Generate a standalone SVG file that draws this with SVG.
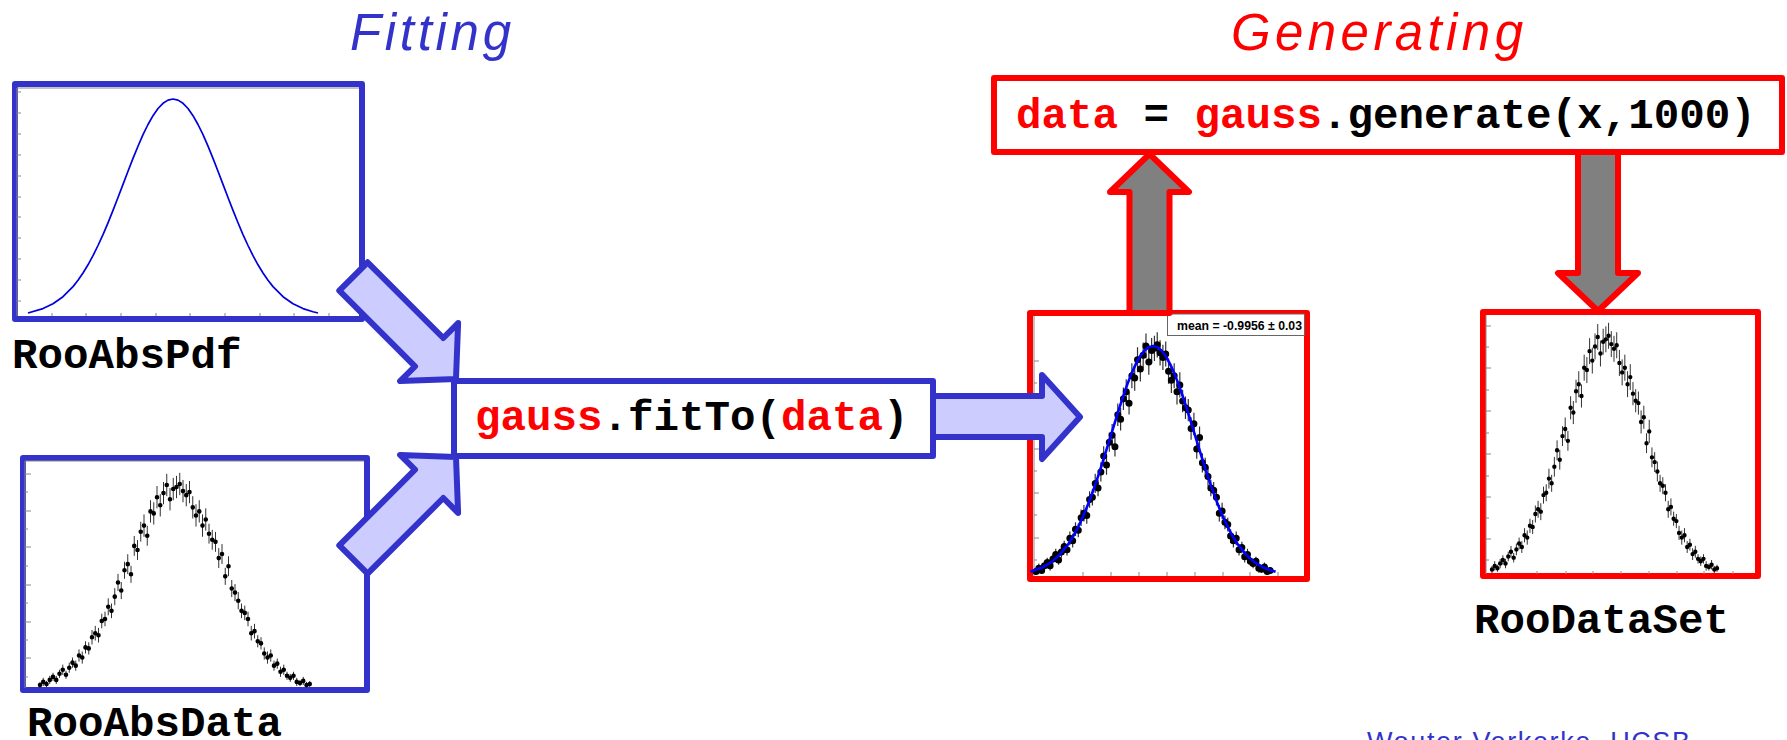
<svg xmlns="http://www.w3.org/2000/svg" width="1787" height="740" viewBox="0 0 1787 740">
<style>
.bluebox{fill:#fff;stroke:#3333cc;stroke-width:6;stroke-linejoin:round}
.redbox{fill:#fff;stroke:#ff0000;stroke-width:6;stroke-linejoin:round}
.barrow{fill:#ccccff;stroke:#3333cc;stroke-width:6;stroke-linejoin:round}
.rarrow{fill:#808080;stroke:#ff0000;stroke-width:6;stroke-linejoin:round}
.code{font-family:"Liberation Mono","Courier New",monospace;font-weight:bold;font-size:42.5px;fill:#000}
.red{fill:#ff0000}
.title{font-family:"Liberation Sans",Arial,sans-serif;font-style:italic;font-size:51px}
.axis{stroke:#888;stroke-width:1;fill:none}
.eb{fill:none;stroke:#333;vector-effect:non-scaling-stroke}
.dots{fill:none;stroke:#000;stroke-linecap:round;vector-effect:non-scaling-stroke}
.curve{fill:none;stroke-linejoin:round;vector-effect:non-scaling-stroke}
.stat{font-family:"Liberation Sans",Arial,sans-serif;font-weight:bold;font-size:12.5px;fill:#000}
</style>
<defs>
<path id="errbars" class="eb" d="M0 0V3M1 1V5M2 .5V3.5M3 2V6M4 3.5V7.5M5 2V6M6 5V9M7 6.5V11.5M8 4.5V8.5M9 7.5V12.5M10 10V15M11 8.5V13.5M12 13V19M13 12V18M14 17V23M15 16.5V22.5M16 21.4V28.6M17 23.4V30.6M18 22.4V29.6M19 29.4V36.6M20 30.4V37.6M21 35.8V44.2M22 34.4V41.6M23 40.8V49.2M24 47.8V56.2M25 43.8V52.2M26 53.8V62.2M27 56.1V65.9M28 51.8V60.2M29 65.1V74.9M30 63.1V72.9M31 72.1V81.9M32 74.5V85.5M33 70.1V79.9M34 81.5V92.5M35 80.5V91.5M36 88.5V99.5M37 84.5V95.5M38 90.5V101.5M39 94.5V105.5M40 87.5V98.5M41 92.5V103.5M42 93.5V104.5M43 95V106M44 91.5V102.5M45 89.5V100.5M46 91V102M47 83.5V94.5M48 79.5V90.5M49 81.5V92.5M50 74.5V85.5M51 77.5V88.5M52 71.1V80.9M53 68.1V77.9M54 67.1V76.9M55 59.1V68.9M56 61.1V70.9M57 50.8V59.2M58 55.1V64.9M59 44.8V53.2M60 42.8V51.2M61 38.8V47.2M62 34.4V41.6M63 33.4V40.6M64 30.4V37.6M65 23.4V30.6M66 24.4V31.6M67 20V26M68 19V25M69 14V20M70 12V18M71 13V19M72 8.5V13.5M73 9.5V14.5M74 5.5V10.5M75 6.5V11.5M76 4V8M77 3V7M78 4V8M79 1V5M80 1V4M81 1.5V5.5M82 0V3M83 .5V3.5"/>
<path id="datadots" class="dots" d="M0 1.5h.001M1 3h.001M2 2h.001M3 4h.001M4 5.5h.001M5 4h.001M6 7h.001M7 9h.001M8 6.5h.001M9 10h.001M10 12.5h.001M11 11h.001M12 16h.001M13 15h.001M14 20h.001M15 19.5h.001M16 25h.001M17 27h.001M18 26h.001M19 33h.001M20 34h.001M21 40h.001M22 38h.001M23 45h.001M24 52h.001M25 48h.001M26 58h.001M27 61h.001M28 56h.001M29 70h.001M30 68h.001M31 77h.001M32 80h.001M33 75h.001M34 87h.001M35 86h.001M36 94h.001M37 90h.001M38 96h.001M39 100h.001M40 93h.001M41 98h.001M42 99h.001M43 100.5h.001M44 97h.001M45 95h.001M46 96.5h.001M47 89h.001M48 85h.001M49 87h.001M50 80h.001M51 83h.001M52 76h.001M53 73h.001M54 72h.001M55 64h.001M56 66h.001M57 55h.001M58 60h.001M59 49h.001M60 47h.001M61 43h.001M62 38h.001M63 37h.001M64 34h.001M65 27h.001M66 28h.001M67 23h.001M68 22h.001M69 17h.001M70 15h.001M71 16h.001M72 11h.001M73 12h.001M74 8h.001M75 9h.001M76 6h.001M77 5h.001M78 6h.001M79 3h.001M80 2.5h.001M81 3.5h.001M82 1.5h.001M83 2h.001"/>
<path id="pdfcurve" class="curve" d="M28 313L43 308.6L53 303.8L63 296.7L73 286.6L78 280.3L83 273L88 264.8L93 255.7L98 245.5L103 234.6L108 222.8L113 210.4L118 197.5L123 184.4L128 171.3L133 158.4L138 146.2L143 134.7L148 124.5L153 115.7L158 108.5L163 103.3L168 100.1L173 99L178 100.1L183 103.3L188 108.5L193 115.7L198 124.5L203 134.7L208 146.2L213 158.4L218 171.3L223 184.4L228 197.5L233 210.4L238 222.8L243 234.6L248 245.5L253 255.7L258 264.8L263 273L268 280.3L273 286.6L283 296.7L293 303.8L303 308.6L313 311.7L318 313"/>
</defs>
<rect width="1787" height="740" fill="#fff"/>

<g id="title-fitting"><text class="title" x="350" y="50" fill="#3333cc" textLength="161" lengthAdjust="spacing">Fitting</text></g>
<g id="title-generating"><text class="title" x="1231" y="50" fill="#ff0000" textLength="292" lengthAdjust="spacing">Generating</text></g>

<g id="rooabspdf">
<rect class="bluebox" x="15" y="84" width="347" height="235"/>
<path class="axis" d="M17 88H359M17 88V316M17 92h4M17 113h4M17 134h4M17 155h4M17 176h4M17 197h4M17 217h4M17 238h4M17 259h4M17 280h4M17 301h4M52 316v-3M86 316v-3M121 316v-3M156 316v-3M190 316v-3M225 316v-3M260 316v-3M294 316v-3M329 316v-3"/>
<use href="#pdfcurve" stroke="#0000dd" stroke-width="1.7"/>
<text class="code" x="12" y="368">RooAbsPdf</text>
</g>

<g id="rooabsdata">
<rect class="bluebox" x="23" y="458" width="344" height="232"/>
<path class="axis" d="M25 461H364M25 461V688M25 474h6M25 492h3M25 511h6M25 529h3M25 547h6M25 566h3M25 585h6M25 603h3M25 622h6M25 640h3M25 658h6M25 677h3"/>
<use href="#errbars" transform="translate(40 688) scale(3.25 -2.03)" stroke-width="1"/>
<use href="#datadots" transform="translate(40 688) scale(3.25 -2.03)" stroke-width="4.6"/>
<text class="code" x="27" y="736">RooAbsData</text>
</g>

<g id="fitto">
<rect class="bluebox" x="454" y="381" width="479" height="75"/>
<text class="code" x="475" y="430"><tspan class="red">gauss</tspan>.fitTo(<tspan class="red">data</tspan>)</text>
</g>

<g id="fitted-plot">
<rect class="redbox" x="1030" y="313" width="277" height="266"/>
<path class="axis" d="M1034 316V576M1034 361h5M1034 383h3M1034 405h5M1034 427h3M1034 449h5M1034 471h3M1034 493h5M1034 515h3M1034 538h5M1034 560h3M1083 576v-4M1111 576v-4M1139 576v-4M1167 576v-4M1195 576v-4M1223 576v-4M1250 576v-4M1278 576v-4"/>
<use href="#errbars" transform="translate(1036 575) scale(2.82 -2.29)" stroke-width="1.2"/>
<use href="#datadots" transform="translate(1036 575) scale(2.82 -2.29)" stroke-width="7"/>
<use href="#pdfcurve" transform="matrix(0.846 0 0 1.0553 1006.6 241.5)" stroke="#0000ff" stroke-width="2.6"/>
<rect x="1167.5" y="314" width="137" height="21.5" fill="#fff" stroke="#666" stroke-width="1"/>
<text class="stat" x="1177" y="330" textLength="125" lengthAdjust="spacingAndGlyphs">mean = -0.9956 ± 0.03</text>
</g>

<g id="generate">
<rect class="redbox" x="994" y="78" width="788" height="74"/>
<text class="code" x="1016" y="128"><tspan class="red">data</tspan> = <tspan class="red">gauss</tspan>.generate(x,1000)</text>
</g>

<g id="roodataset">
<rect class="redbox" x="1483" y="312" width="275" height="264"/>
<path class="axis" d="M1486 315V574M1486 326h5M1486 347h3M1486 368h5M1486 390h3M1486 411h5M1486 433h3M1486 454h5M1486 476h3M1486 497h5M1486 518h3M1486 539h5M1486 560h3M1537 574v-3M1566 574v-3M1593 574v-3M1621 574v-3M1649 574v-3M1677 574v-3M1704 574v-3M1733 574v-3"/>
<use href="#errbars" transform="translate(1492 573) scale(2.711 -2.36)" stroke-width="1"/>
<use href="#datadots" transform="translate(1492 573) scale(2.711 -2.36)" stroke-width="4.4"/>
<text class="code" x="1474" y="633">RooDataSet</text>
</g>

<g id="connectors">
<polygon class="barrow" points="339.3,290.6 415,366.3 400.1,381.1 456,379 458.1,323.1 443.3,338 367.6,262.3"/>
<polygon class="barrow" points="339.3,545.4 415,469.7 400.1,454.9 456,457 458.1,512.9 443.3,498 367.6,573.7"/>
<polygon class="barrow" points="933,396 1042,396 1042,375 1080,417 1042,459 1042,437 933,437"/>
<polygon class="rarrow" points="1129.5,313 1129.5,192 1110,192 1149.5,154 1189,192 1169.5,192 1169.5,313"/>
<polygon class="rarrow" points="1578,152 1618,152 1618,273 1638,273 1598,311 1558,273 1578,273"/>
</g>

<g id="footer"><text x="1367" y="751" font-family="'Liberation Sans',Arial,sans-serif" font-size="27" fill="#3333cc" textLength="323" lengthAdjust="spacing">Wouter Verkerke, UCSB</text></g>
</svg>
